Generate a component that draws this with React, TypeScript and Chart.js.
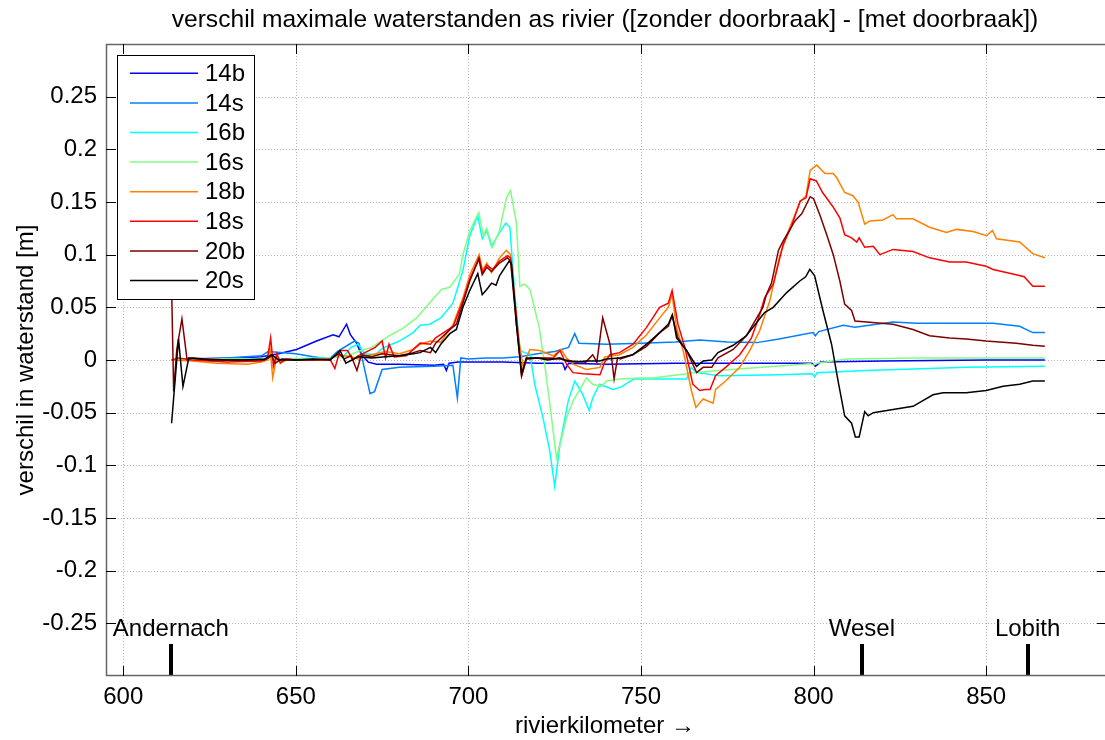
import React, { useEffect, useRef } from 'react';
import { Chart, registerables } from 'chart.js';

Chart.register(...registerables);

const FONT = "'Liberation Sans', Arial, Helvetica, sans-serif";

const chartTitle = 'verschil maximale waterstanden as rivier ([zonder doorbraak] - [met doorbraak])';
const xLabel = 'rivierkilometer \u2192';
const yLabel = 'verschil in waterstand [m]';

const seriesNames = ['14b', '14s', '16b', '16s', '18b', '18s', '20b', '20s'];
const seriesColors = ['#0000ff', '#0080ff', '#00ffff', '#80ff80', '#ff8000', '#ff0000', '#800000', '#000000'];

const xTicks = [600, 650, 700, 750, 800, 850];
const yTicks = [-0.25, -0.2, -0.15, -0.1, -0.05, 0, 0.05, 0.1, 0.15, 0.2, 0.25];

const stationNames = ['Andernach', 'Wesel', 'Lobith'];
const stationKm = [613.8, 814, 862];

// [rivierkilometer, verschil (m)]
const s14b: [number, number][] = [
  [614, 0], [620, 0.001], [631.8, 0.002], [640, 0.003], [645, 0.006], [650.2, 0.01], [656, 0.018],
  [660.8, 0.024], [662.5, 0.022], [664.7, 0.034], [665.8, 0.024], [667.6, 0.016], [669, 0.005],
  [671, -0.002], [673.4, -0.004], [680, -0.004], [690, -0.005], [692.8, -0.004], [693.6, -0.01],
  [694.4, -0.003], [697, -0.002], [700, -0.002], [710, -0.002], [720, -0.003], [727.3, -0.003],
  [728, -0.009], [729, -0.003], [740, -0.004], [760, -0.003], [780, -0.003], [799.5, -0.003],
  [800.5, -0.006], [802, -0.002], [820, -0.001], [850, 0], [867, 0],
];

const s14s: [number, number][] = [
  [614, 0], [620, 0.001], [630, 0.002], [640, 0.004], [642, 0.008], [650, 0.006], [655, 0.003],
  [659.7, 0.001], [662, 0.008], [665, 0.014], [667, 0.018], [668.3, 0.016], [670, -0.01],
  [671.5, -0.032], [672.8, -0.03], [675, -0.009], [680, -0.007], [690, -0.006], [695.5, -0.005],
  [696.8, -0.036], [697.8, 0.002], [700, 0.001], [705, 0.002], [710, 0.002], [714.9, 0.003],
  [720, 0.006], [725, 0.008], [729, 0.012], [730.8, 0.025], [732, 0.016], [740, 0.015], [750, 0.016],
  [760, 0.017], [767, 0.019], [775, 0.017], [783.5, 0.0165], [790, 0.02], [799.8, 0.026],
  [800.5, 0.023], [801.5, 0.027], [808.6, 0.033], [812, 0.031], [822.9, 0.036], [830, 0.035],
  [844.3, 0.035], [852, 0.035], [859.7, 0.032], [863.5, 0.026], [867, 0.026],
];

const s16b: [number, number][] = [
  [614, 0], [620, 0.001], [640, 0.001], [660, 0.002], [664, 0.004], [666, 0.012], [668, 0.015],
  [670, 0.006], [673, 0.005], [675, 0.011], [680, 0.018], [684, 0.026], [686, 0.033], [688.8, 0.034],
  [692, 0.04], [695.5, 0.054], [698.4, 0.085], [700.4, 0.118], [702.7, 0.137], [704, 0.115],
  [705.3, 0.123], [706.7, 0.108], [709, 0.121], [710.8, 0.13], [712, 0.126], [713.5, 0.06],
  [714.9, 0.009], [716.3, 0.007], [717.8, 0.006], [719.2, -0.023], [721.6, -0.055], [723.6, -0.087],
  [725, -0.12], [726.5, -0.08], [728.9, -0.039], [730.8, -0.02], [733, -0.032], [735, -0.048],
  [736, -0.036], [738, -0.023], [741.9, -0.028], [744, -0.026], [748, -0.018], [763.2, -0.018],
  [764.6, -0.007], [766, -0.012], [772.8, -0.015], [790, -0.014], [799.5, -0.013], [800.3, -0.016],
  [801, -0.012], [815.4, -0.01], [844.3, -0.007], [867, -0.006],
];

const s16s: [number, number][] = [
  [614, 0], [620, 0.001], [640, 0.001], [650, 0.001], [660, 0.002], [665, 0.004], [668, 0.008],
  [672, 0.012], [677, 0.023], [681, 0.03], [685, 0.04], [689.7, 0.058], [692.2, 0.067], [694.6, 0.069],
  [695.5, 0.073], [697.4, 0.082], [698.4, 0.1], [700.4, 0.123], [703, 0.14], [704.3, 0.118],
  [705.3, 0.125], [707, 0.107], [709, 0.123], [711, 0.154], [712.2, 0.161], [713.9, 0.13],
  [714.9, 0.07], [716.3, 0.072], [717.8, 0.067], [720.5, 0.031], [722.2, -0.007], [723.6, -0.042],
  [725.5, -0.093], [727, -0.074], [728.4, -0.055], [730.3, -0.039], [734.2, -0.017], [736, -0.023],
  [738.5, -0.025], [740, -0.02], [743.8, -0.018], [749.6, -0.017], [753.4, -0.017], [763.2, -0.013],
  [765, -0.012], [772.8, -0.01], [780, -0.008], [799, -0.0035], [800, -0.005], [801, -0.003],
  [809.5, 0.001], [830, 0.002], [867, 0.002],
];

const s18b: [number, number][] = [
  [614, 0], [620, -0.001], [627, -0.003], [636, -0.004], [640, -0.002], [641.8, 0], [642.5, 0.012],
  [643.3, -0.017], [644.5, 0.004], [646, -0.002], [648, 0.001], [650, 0], [660, 0.001], [662, 0.005],
  [666, 0.003], [668, 0.001], [672, 0.005], [676, 0.008], [680, 0.006], [684, 0.01], [686, 0.015],
  [689, 0.018], [692, 0.017], [695.6, 0.034], [698.4, 0.059], [700.4, 0.081], [703.1, 0.1],
  [704.1, 0.085], [705.3, 0.092], [706.7, 0.083], [709, 0.097], [711, 0.104], [712.2, 0.1],
  [714.4, 0.024], [715.8, -0.006], [717.8, 0.01], [720.7, 0.009], [724.6, 0.004], [726.8, 0.01],
  [728.4, 0.002], [730.3, -0.004], [734.2, -0.009], [738.1, -0.007], [739.5, 0.003], [743.8, 0.005],
  [747.7, 0.012], [751.6, 0.024], [755.4, 0.04], [757.9, 0.05], [759, 0.062], [760.3, 0.031],
  [762.2, 0.009], [764.6, -0.029], [765.9, -0.045], [768, -0.037], [770.9, -0.041], [771.6, -0.028],
  [774.5, -0.02], [778.6, -0.007], [781.5, 0.009], [784.4, 0.028], [787.3, 0.056], [790.2, 0.099],
  [793.1, 0.126], [796.1, 0.15], [797.8, 0.156], [799, 0.18], [800.9, 0.185], [803.3, 0.177],
  [805.7, 0.177], [806.7, 0.173], [809, 0.159], [811.4, 0.156], [812.9, 0.15], [814.8, 0.129],
  [816.3, 0.132], [820.1, 0.133], [823, 0.138], [824, 0.134], [828.8, 0.134], [833.6, 0.126],
  [838.5, 0.121], [841.4, 0.124], [846.2, 0.122], [850.1, 0.118], [851.8, 0.123], [853, 0.115],
  [859.7, 0.112], [863.5, 0.101], [867, 0.097],
];

const s18s: [number, number][] = [
  [614, 0], [616, 0.002], [620, 0], [630, -0.002], [640, -0.001], [641.8, 0.002], [642.7, 0.021],
  [643.5, -0.006], [644.5, 0.006], [645.5, -0.003], [647, 0.001], [650, 0], [655, 0], [660, 0],
  [661.3, -0.008], [662.8, 0.009], [665, 0.009], [666.5, 0], [668, 0.004], [670, 0.007], [673, 0.012],
  [675, 0.018], [676, 0.002], [677, 0.015], [678.5, 0.003], [682, 0.004], [686, 0.016], [689, 0.015],
  [690.5, 0.021], [695.6, 0.032], [698.4, 0.056], [700.4, 0.077], [703.1, 0.097], [704.1, 0.083],
  [705.3, 0.09], [707, 0.086], [709, 0.094], [711.3, 0.099], [712.2, 0.097], [714.2, 0.031],
  [715.4, -0.015], [716.8, 0.001], [720, 0.002], [724.6, 0.002], [726.5, 0.009], [728.4, -0.004],
  [730.3, -0.012], [733.3, -0.013], [738.1, -0.014], [739.5, -0.002], [741, 0.005], [743.8, 0.007],
  [747.7, 0.015], [751.6, 0.031], [755.4, 0.05], [757.9, 0.054], [759, 0.066], [760.7, 0.034],
  [762.7, 0.012], [765, -0.023], [767, -0.029], [768.5, -0.028], [770, -0.028], [771.6, -0.015],
  [774.5, -0.007], [778.6, 0.005], [782, 0.021], [784.4, 0.043], [785.8, 0.059], [788.3, 0.072],
  [791.2, 0.11], [793.6, 0.127], [796.1, 0.151], [797.8, 0.154], [799, 0.172], [800.8, 0.17],
  [802.6, 0.159], [805.5, 0.146], [807.6, 0.135], [809, 0.119], [811, 0.116], [812.5, 0.112],
  [813.2, 0.116], [814.8, 0.107], [817.3, 0.108], [819.2, 0.1], [823, 0.105], [828.8, 0.103],
  [833.6, 0.097], [839.4, 0.093], [844.2, 0.093], [850, 0.089], [852, 0.086], [858.7, 0.081],
  [861, 0.079], [863.5, 0.07], [867, 0.07],
];

const s20b: [number, number][] = [
  [614, 0.07], [614.6, -0.03], [615.5, 0.01], [617, 0.039], [618.5, 0], [620, 0.002], [630, 0],
  [641, 0], [643, 0.004], [644, -0.003], [646, 0.001], [650, 0], [655, 0], [660, 0.001],
  [662.5, 0.006], [664, 0.001], [666, 0.004], [667.7, -0.01], [669, 0.005], [672, 0.003], [675, 0.006],
  [680, 0.004], [684, 0.007], [686, 0.009], [689, 0.007], [690.5, 0.016], [695, 0.03], [696.5, 0.034],
  [698.4, 0.054], [700.4, 0.075], [703, 0.096], [704, 0.081], [705.3, 0.088], [706.7, 0.084],
  [709, 0.092], [711.3, 0.097], [712.2, 0.094], [714, 0.031], [715.4, -0.015], [716.8, 0.001],
  [720, 0.002], [726.5, 0.001], [730, -0.001], [734, -0.002], [736, 0.005], [737.2, -0.002],
  [738.9, 0.04], [741, 0.015], [742.2, -0.018], [743.2, 0.002], [744, 0.001], [747.6, 0.005],
  [751.6, 0.013], [755.4, 0.026], [757.9, 0.032], [759, 0.042], [760.7, 0.021], [763.2, 0.009],
  [766.1, -0.012], [768, -0.007], [770.5, -0.007], [772.3, 0.002], [776.7, 0.01], [780.5, 0.023],
  [785.3, 0.05], [786.3, 0.062], [787.8, 0.073], [789.8, 0.104], [791.2, 0.113], [794.6, 0.132],
  [796.6, 0.139], [799, 0.155], [800, 0.153], [801.9, 0.137], [803.8, 0.119], [805.7, 0.1],
  [807.6, 0.075], [809, 0.053], [811, 0.047], [812, 0.037], [815.4, 0.036], [823, 0.034],
  [828.8, 0.029], [833.6, 0.023], [839.4, 0.021], [844.2, 0.02], [850, 0.018], [858.7, 0.016],
  [863.5, 0.014], [867, 0.013],
];

const s20s: [number, number][] = [
  [614, -0.06], [616, 0.02], [617.3, -0.025], [619, 0.002], [625, 0], [635, 0], [641, 0.001],
  [643, 0.005], [645, 0], [650, 0], [655, 0.001], [660, 0], [662.8, 0.009], [664.5, -0.003],
  [668, 0.003], [672, 0.002], [676, 0.003], [680, 0.004], [684, 0.006], [686, 0.007], [689, 0.012],
  [690.5, 0.007], [692, 0.015], [694.6, 0.025], [696.5, 0.029], [698.4, 0.05], [700.4, 0.066],
  [702.7, 0.082], [704, 0.062], [705.3, 0.067], [706.7, 0.073], [708, 0.071], [709, 0.08],
  [711.8, 0.094], [712.5, 0.091], [713.9, 0.034], [715.4, -0.013], [716.8, 0.002], [720, 0.002],
  [723, 0], [726.5, 0.002], [728.4, -0.001], [731.4, -0.002], [734, -0.001], [738, -0.001],
  [740, 0.001], [743.8, 0.002], [747.6, 0.005], [751.6, 0.015], [755.4, 0.026], [757.9, 0.034],
  [759.1, 0.043], [760.3, 0.021], [763.2, 0.009], [766.1, -0.006], [768, -0.001], [770.5, 0],
  [772.3, 0.007], [776.7, 0.014], [780.5, 0.023], [785.8, 0.045], [788.3, 0.05], [792.2, 0.064],
  [796, 0.075], [797.7, 0.079], [798.9, 0.086], [800.3, 0.08], [802.7, 0.047], [805.2, 0.015],
  [807.1, -0.02], [809, -0.053], [811, -0.06], [812.1, -0.073], [813.2, -0.073], [814.8, -0.049],
  [815.8, -0.053], [817.3, -0.05], [823, -0.047], [828.8, -0.044], [834.6, -0.033], [837.5, -0.031],
  [844.2, -0.031], [850, -0.029], [854.9, -0.025], [859.7, -0.023], [863.5, -0.02], [867, -0.02],
];

const seriesData = [s14b, s14s, s16b, s16s, s18b, s18s, s20b, s20s];

const decorPlugin = {
  id: 'decor',
  beforeDraw(chart: any) {
    const { ctx, width, height } = chart;
    ctx.save();
    ctx.fillStyle = '#ffffff';
    ctx.fillRect(0, 0, width, height);
    ctx.restore();
  },
  beforeDatasetsDraw(chart: any) {
    const { ctx, chartArea: a, scales } = chart;
    ctx.save();
    ctx.strokeStyle = '#b4b4b4';
    ctx.lineWidth = 1;
    ctx.setLineDash([1, 2]);
    xTicks.forEach((v) => {
      const x = Math.round(scales.x.getPixelForValue(v)) + 0.5;
      ctx.beginPath();
      ctx.moveTo(x, a.top);
      ctx.lineTo(x, a.bottom);
      ctx.stroke();
    });
    yTicks.forEach((v) => {
      const y = Math.round(scales.y.getPixelForValue(v)) + 0.5;
      ctx.beginPath();
      ctx.moveTo(a.left, y);
      ctx.lineTo(a.right, y);
      ctx.stroke();
    });
    ctx.restore();
  },
  afterDatasetsDraw(chart: any) {
    const { ctx, chartArea: a, scales } = chart;
    ctx.save();
    // station markers
    ctx.fillStyle = '#000';
    ctx.font = `24px ${FONT}`;
    ctx.textAlign = 'center';
    ctx.textBaseline = 'alphabetic';
    stationKm.forEach((km, i) => {
      const x = scales.x.getPixelForValue(km);
      ctx.fillRect(Math.round(x) - 2, a.bottom - 32, 4, 32);
      ctx.fillText(stationNames[i], x, a.bottom - 40);
    });
    // box
    ctx.strokeStyle = '#666';
    ctx.lineWidth = 1.5;
    ctx.strokeRect(a.left + 0.5, a.top + 0.5, a.right - a.left - 1, a.bottom - a.top - 1);
    // inward ticks
    ctx.strokeStyle = '#000';
    ctx.lineWidth = 1;
    const tl = 10;
    xTicks.forEach((v) => {
      const x = Math.round(scales.x.getPixelForValue(v)) + 0.5;
      ctx.beginPath();
      ctx.moveTo(x, a.bottom);
      ctx.lineTo(x, a.bottom - tl);
      ctx.moveTo(x, a.top);
      ctx.lineTo(x, a.top + tl);
      ctx.stroke();
    });
    yTicks.forEach((v) => {
      const y = Math.round(scales.y.getPixelForValue(v)) + 0.5;
      ctx.beginPath();
      ctx.moveTo(a.left, y);
      ctx.lineTo(a.left + tl, y);
      ctx.moveTo(a.right, y);
      ctx.lineTo(a.right - tl, y);
      ctx.stroke();
    });
    // legend
    const lx = 117, ly = 55, lw = 137, lh = 244;
    ctx.fillStyle = '#fff';
    ctx.fillRect(lx, ly, lw, lh);
    ctx.strokeStyle = '#000';
    ctx.lineWidth = 1;
    ctx.strokeRect(lx + 0.5, ly + 0.5, lw, lh);
    ctx.textAlign = 'left';
    ctx.textBaseline = 'middle';
    ctx.font = `24px ${FONT}`;
    seriesNames.forEach((name, i) => {
      const y = 73.3 + i * 29.6;
      ctx.strokeStyle = seriesColors[i];
      ctx.lineWidth = 1.5;
      ctx.beginPath();
      ctx.moveTo(130, y);
      ctx.lineTo(198, y);
      ctx.stroke();
      ctx.fillStyle = '#000';
      ctx.fillText(name, 205, y + 1);
    });
    ctx.restore();
  },
  afterDraw(chart: any) {
    const { ctx, chartArea: a } = chart;
    ctx.save();
    ctx.fillStyle = '#000';
    ctx.textAlign = 'center';
    ctx.textBaseline = 'alphabetic';
    ctx.font = `24.6px ${FONT}`;
    ctx.fillText(chartTitle, 605, 27);
    ctx.font = `24px ${FONT}`;
    ctx.fillText(xLabel, 605, 733);
    ctx.translate(33, (a.top + a.bottom) / 2);
    ctx.rotate(-Math.PI / 2);
    ctx.fillText(yLabel, 0, 0);
    ctx.restore();
  },
};

export default function App() {
  const ref = useRef<HTMLCanvasElement | null>(null);

  useEffect(() => {
    if (!ref.current) return;
    const n = seriesNames.length;
    const chart = new Chart(ref.current, {
      type: 'line',
      data: {
        datasets: seriesData.map((arr, i) => ({
          label: seriesNames[i],
          data: arr.map(([x, y]) => ({ x, y })),
          borderColor: seriesColors[i],
          backgroundColor: seriesColors[i],
          borderWidth: 1.5,
          pointRadius: 0,
          tension: 0,
          fill: false,
          order: n - 1 - i,
        })),
      },
      options: {
        animation: false,
        responsive: false,
        devicePixelRatio: 1,
        layout: { padding: { left: 0, right: 3, top: 44, bottom: 0 } },
        plugins: {
          legend: { display: false },
          tooltip: { enabled: false },
          title: { display: false },
        },
        scales: {
          x: {
            type: 'linear',
            min: 595,
            max: 885,
            grid: { display: false, drawTicks: false },
            border: { display: false },
            afterBuildTicks: (s: any) => {
              s.ticks = xTicks.map((v) => ({ value: v }));
            },
            afterFit: (s: any) => {
              s.height = 64;
            },
            ticks: {
              autoSkip: false,
              maxRotation: 0,
              padding: 7,
              color: '#000',
              font: { family: FONT, size: 24 },
              callback: (v: any) => String(v),
            },
          },
          y: {
            type: 'linear',
            min: -0.3,
            max: 0.3,
            grid: { display: false, drawTicks: false },
            border: { display: false },
            afterBuildTicks: (s: any) => {
              s.ticks = yTicks.map((v) => ({ value: v }));
            },
            afterFit: (s: any) => {
              s.width = 106;
            },
            ticks: {
              padding: 9,
              color: '#000',
              font: { family: FONT, size: 24 },
              callback: (v: any) => String(Number(Number(v).toFixed(2)) + 0),
            },
          },
        },
      },
      plugins: [decorPlugin],
    });
    return () => chart.destroy();
  }, []);

  return (
    <div style={{ position: 'fixed', left: 0, top: 0, width: 1105, height: 740, overflow: 'hidden', background: '#fff' }}>
      <canvas ref={ref} width={1110} height={740} style={{ width: 1110, height: 740, display: 'block' }} />
    </div>
  );
}
